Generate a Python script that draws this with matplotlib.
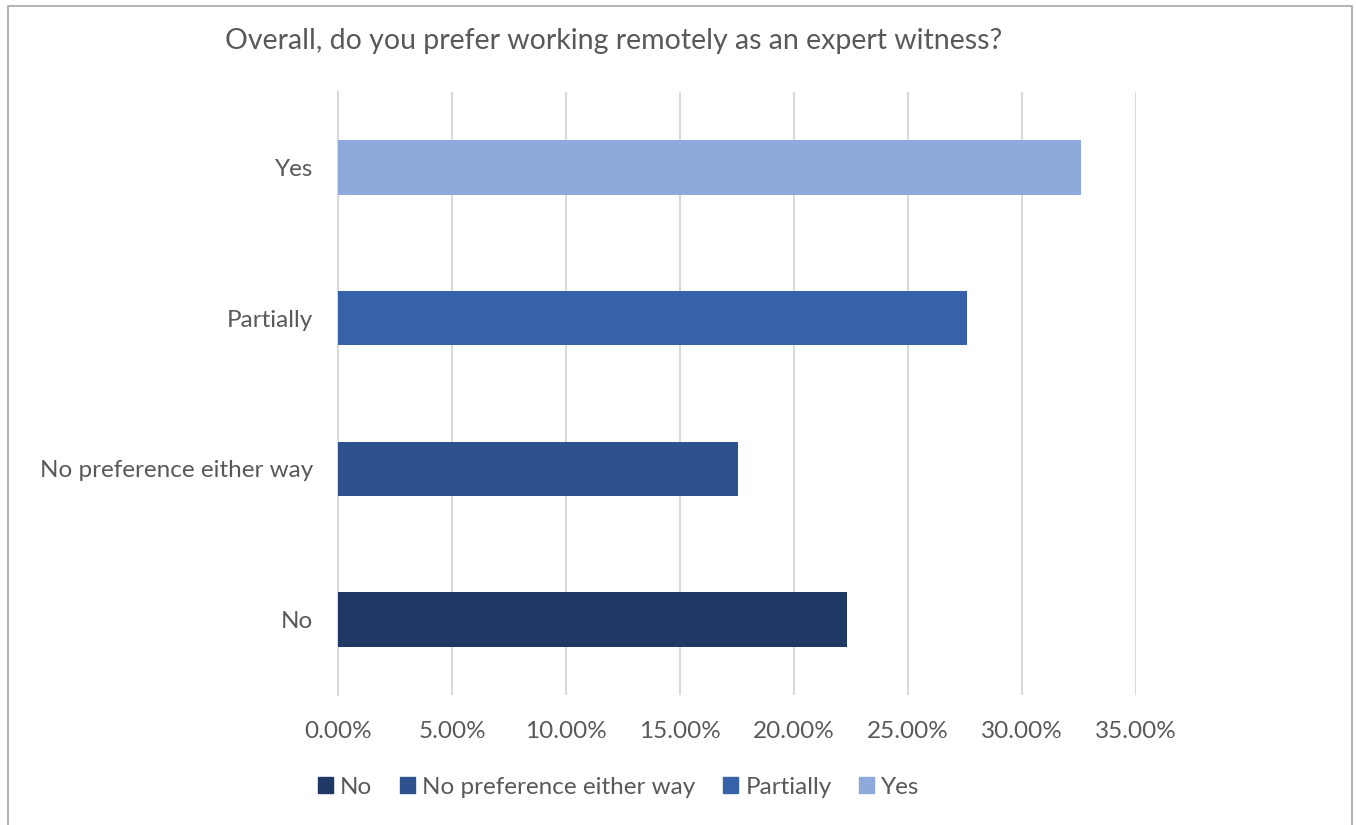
import matplotlib.pyplot as plt
from matplotlib.patches import Rectangle, Patch
from matplotlib.ticker import FuncFormatter

categories = ["No", "No preference either way", "Partially", "Yes"]
shares = [22.31, 17.55, 27.6, 32.57]
colors = ["#203864", "#2e528d", "#3761a8", "#8eaadc"]

plt.rcParams["font.family"] = ["Lato", "DejaVu Sans"]
grey = "#595959"

fig = plt.figure(figsize=(13.56, 8.25), dpi=100)
ax = fig.add_axes([338 / 1356, 1 - 695 / 825, (1136 - 338) / 1356, (695 - 92) / 825])

ax.barh(range(len(categories)), shares, height=0.36, color=colors, zorder=3)

ax.set_xlim(0, 35)
ax.set_ylim(-0.5, len(categories) - 0.5)
ax.set_xticks(range(0, 36, 5))
ax.xaxis.set_major_formatter(FuncFormatter(lambda v, p: f"{v:.2f}%"))
ax.set_yticks(range(len(categories)))
ax.set_yticklabels(categories)
ax.grid(axis="x", color="#d9d9d9", linewidth=1.5, zorder=0)
for s in ["top", "right", "bottom"]:
    ax.spines[s].set_visible(False)
ax.spines["left"].set_color("#d9d9d9")
ax.spines["left"].set_linewidth(1.5)
ax.tick_params(axis="both", length=0, labelsize=17.5, labelcolor=grey)
ax.tick_params(axis="x", pad=19)
ax.tick_params(axis="y", pad=18)

fig.text(614 / 1356, 1 - 41 / 825, "Overall, do you prefer working remotely as an expert witness?",
         ha="center", va="center", fontsize=20.5, color=grey)

handles = [Patch(color=c) for c in colors]
fig.legend(handles, categories, loc="center", bbox_to_anchor=(619 / 1356, 1 - 787 / 825),
           ncol=4, frameon=False, fontsize=17.5, labelcolor=grey,
           handlelength=0.6, handleheight=0.6, handletextpad=0.3, columnspacing=1.15)

# light frame round the whole chart
fig.patches.append(Rectangle((8 / 1356, -0.05), 1344 / 1356, 1.05 - 6 / 825,
                             transform=fig.transFigure, fill=False,
                             edgecolor="#a6a6a6", linewidth=1.2))

fig.savefig("out.png", dpi=100, facecolor="white")
